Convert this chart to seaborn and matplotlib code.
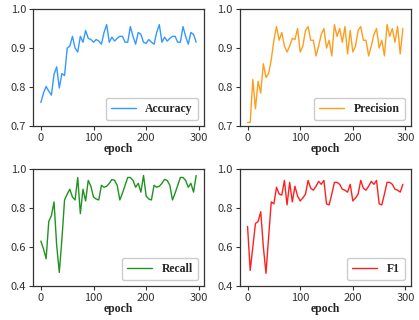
import numpy as np
import matplotlib
matplotlib.use("Agg")
import matplotlib.pyplot as plt
import seaborn as sns

# epochs sampled every 5
epochs = list(range(0, 300, 5))

accuracy = [0.761, 0.785, 0.802, 0.790, 0.780, 0.833, 0.852, 0.798, 0.835, 0.830,
            0.900, 0.905, 0.930, 0.900, 0.890, 0.930, 0.915, 0.945, 0.925, 0.922,
            0.915, 0.922, 0.918, 0.910, 0.940, 0.960, 0.915, 0.928, 0.918, 0.925,
            0.930, 0.930, 0.915, 0.915, 0.955, 0.930, 0.910, 0.940, 0.935, 0.915,
            0.912, 0.922, 0.915, 0.910, 0.940, 0.960, 0.915, 0.928, 0.918, 0.925,
            0.930, 0.930, 0.915, 0.915, 0.955, 0.930, 0.910, 0.940, 0.935, 0.915]

precision = [0.710, 0.710, 0.820, 0.745, 0.815, 0.785, 0.860, 0.825, 0.835, 0.870,
             0.920, 0.955, 0.920, 0.940, 0.905, 0.890, 0.905, 0.925, 0.922, 0.950,
             0.890, 0.905, 0.945, 0.955, 0.920, 0.920, 0.880, 0.905, 0.935, 0.950,
             0.900, 0.920, 0.880, 0.960, 0.930, 0.950, 0.915, 0.955, 0.885, 0.945,
             0.890, 0.905, 0.945, 0.955, 0.920, 0.920, 0.880, 0.905, 0.935, 0.950,
             0.900, 0.920, 0.880, 0.960, 0.930, 0.950, 0.915, 0.955, 0.885, 0.950]

recall = [0.630, 0.590, 0.540, 0.730, 0.760, 0.830, 0.610, 0.470, 0.640, 0.840,
          0.870, 0.895, 0.855, 0.840, 0.955, 0.770, 0.895, 0.835, 0.940, 0.910,
          0.855, 0.845, 0.840, 0.915, 0.905, 0.910, 0.925, 0.945, 0.940, 0.915,
          0.840, 0.875, 0.915, 0.955, 0.955, 0.940, 0.905, 0.925, 0.880, 0.965,
          0.860, 0.845, 0.840, 0.915, 0.905, 0.910, 0.925, 0.945, 0.940, 0.915,
          0.840, 0.875, 0.915, 0.955, 0.955, 0.940, 0.905, 0.925, 0.880, 0.965]

f1 = [0.705, 0.480, 0.600, 0.720, 0.730, 0.780, 0.600, 0.465, 0.650, 0.830,
      0.820, 0.905, 0.870, 0.865, 0.940, 0.815, 0.930, 0.830, 0.910, 0.860,
      0.835, 0.850, 0.870, 0.940, 0.900, 0.890, 0.910, 0.935, 0.920, 0.940,
      0.820, 0.815, 0.870, 0.930, 0.930, 0.920, 0.895, 0.890, 0.880, 0.920,
      0.835, 0.850, 0.870, 0.940, 0.900, 0.890, 0.910, 0.935, 0.920, 0.940,
      0.820, 0.815, 0.870, 0.930, 0.930, 0.920, 0.895, 0.890, 0.880, 0.920]

names = ["Accuracy", "Precision", "Recall", "F1"]
colors = ["#3399ff", "#ff9d1e", "#1e941e", "#ff1f1f"]
ylims = [(0.7, 1.0), (0.7, 1.0), (0.4, 1.0), (0.4, 1.0)]
yticks = [[0.7, 0.8, 0.9, 1.0], [0.7, 0.8, 0.9, 1.0],
          [0.4, 0.6, 0.8, 1.0], [0.4, 0.6, 0.8, 1.0]]
series = [accuracy, precision, recall, f1]

sns.set_style("ticks")
plt.rcParams['font.family'] = ['Noto Sans CJK SC', 'DejaVu Sans']

fig, axes = plt.subplots(2, 2, figsize=(4.19, 3.2), dpi=100)
fig.subplots_adjust(left=0.079, right=0.98, top=0.972, bottom=0.106,
                    wspace=0.21, hspace=0.36)

serif_bold = {'family': 'Liberation Serif', 'weight': 'bold', 'size': 8.5}

for ax, name, vals, c, yl, yt in zip(axes.flat, names, series, colors, ylims, yticks):
    sns.lineplot(x=epochs, y=vals, ax=ax, color=c, linewidth=1.0, label=name)
    ax.set_ylim(*yl)
    ax.set_yticks(yt)
    ax.set_yticklabels([f"{v:.1f}" for v in yt])
    ax.set_xticks([0, 100, 200, 300])
    ax.tick_params(labelsize=8, length=3, width=0.8, colors="#333333", pad=2)
    for s in ax.spines.values():
        s.set_visible(True)
        s.set_color("#333333")
        s.set_linewidth(0.9)
    ax.set_xlabel("epoch", fontdict=serif_bold, labelpad=0)
    ax.set_ylabel("")
    ax.legend(loc="lower right", prop=serif_bold, handlelength=2.1,
              borderpad=0.45, framealpha=1, edgecolor="#cccccc")

plt.savefig("out.png", dpi=100)
